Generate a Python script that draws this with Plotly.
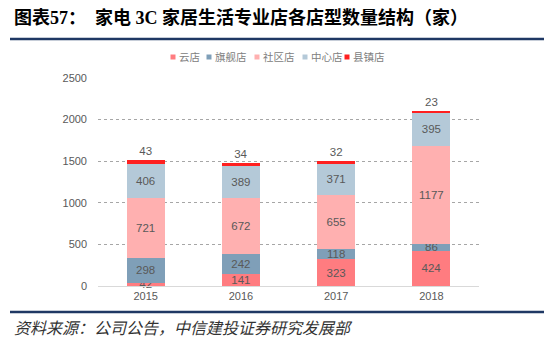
import plotly.graph_objects as go

years = ["2015", "2016", "2017", "2018"]
series_names = ["云店", "旗舰店", "社区店", "中心店", "县镇店"]
yun = [42, 141, 323, 424]
qijian = [298, 242, 118, 86]
shequ = [721, 672, 655, 1177]
zhongxin = [406, 389, 371, 395]
xianzhen = [43, 34, 32, 23]
colors = ["#FF7C80", "#7F9FB8", "#FFB0B0", "#B4C9D8", "#FF2020"]

values = [yun, qijian, shequ, zhongxin, xianzhen]
font_fam = "Liberation Sans, Arial, Noto Sans CJK SC, sans-serif"

# plot area in pixels (for paper-coordinate placement of decorations)
L, R, T, B = 98, 479, 78, 286
W, H = R - L, B - T


def px(x):
    return (x - L) / W


def py(y):
    return (B - y) / H


fig = go.Figure()
for i, (name, vals) in enumerate(zip(series_names, values)):
    top = i == len(values) - 1
    fig.add_trace(go.Bar(
        x=years, y=vals, name=name,
        marker=dict(color=colors[i], line=dict(width=0)),
        text=[str(v) for v in vals],
        textposition="outside" if top else "inside",
        insidetextanchor="middle",
        constraintext="none",
        cliponaxis=False,
        textfont=dict(size=11.5, color="#595959", family=font_fam),
        hoverinfo="skip",
        showlegend=False,
    ))

fig.update_layout(
    barmode="stack",
    bargap=0.6,
    width=554, height=353,
    margin=dict(l=L, r=554 - R, t=T, b=353 - B),
    paper_bgcolor="white", plot_bgcolor="white",
    font=dict(family=font_fam, color="#595959", size=11),
    showlegend=False,
    xaxis=dict(showgrid=False, showline=True, linecolor="#D9D9D9", linewidth=1,
               ticks="", tickfont=dict(size=11, color="#595959")),
    yaxis=dict(range=[0, 2500], tick0=0, dtick=500, showgrid=True,
               gridcolor="#A6A6A6", griddash="dot", gridwidth=1,
               zeroline=False, showline=False, ticks="",
               tickfont=dict(size=11, color="#595959"), ticklabelstandoff=10),
)

# custom compact legend
legend_x = [173, 209, 257, 305, 347]
legend_y = 57
for name, c, lx in zip(series_names, colors, legend_x):
    fig.add_shape(type="rect", xref="paper", yref="paper",
                  x0=px(lx - 2.5), x1=px(lx + 2.5),
                  y0=py(legend_y + 2.5), y1=py(legend_y - 2.5),
                  fillcolor=c, line=dict(width=0))
    fig.add_annotation(xref="paper", yref="paper", x=px(lx + 4), y=py(legend_y),
                       xanchor="left", yanchor="middle", showarrow=False,
                       text=name,
                       font=dict(size=10.5, color="#808080",
                                 family="Noto Sans CJK SC, sans-serif"))

fig.add_annotation(
    xref="paper", yref="paper", x=px(12), y=py(18),
    xanchor="left", yanchor="middle", showarrow=False,
    text="<b>图表57：  家电 3C 家居生活专业店各店型数量结构（家）</b>",
    font=dict(size=18, color="#000000", family="Liberation Serif, Noto Sans CJK SC, serif"),
)
fig.add_annotation(
    xref="paper", yref="paper", x=px(12), y=py(327),
    xanchor="left", yanchor="middle", showarrow=False,
    text="<i>资料来源：公司公告，中信建投证券研究发展部</i>",
    font=dict(size=16, color="#333333", family="Noto Sans CJK SC, sans-serif"),
)
for ypx in (39, 312):
    fig.add_shape(type="line", xref="paper", yref="paper",
                  x0=px(10), x1=px(544), y0=py(ypx), y1=py(ypx),
                  line=dict(color="#1F3864", width=2.5))

fig.write_html("out.html")
